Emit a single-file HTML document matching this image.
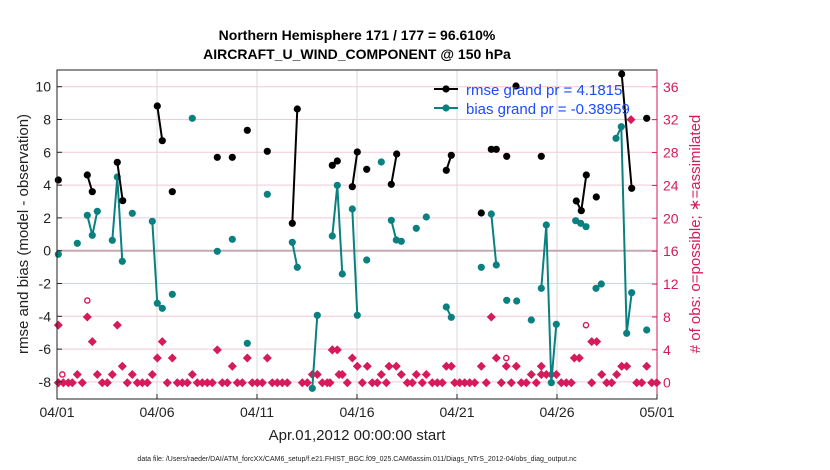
<!DOCTYPE html><html><head><style>body{margin:0;background:#fff}svg{display:block;font-family:"Liberation Sans",sans-serif}</style></head><body>
<svg id="s" width="830" height="470" xmlns="http://www.w3.org/2000/svg"></svg>
<script>
const s=document.getElementById('s');let h='';
const L=57,R=657,T=70,B=399;
const yl=v=>250.7-v*16.4, yr=n=>382.7-n*8.22;
h+=`<rect x="${L}" y="${T}" width="${R-L}" height="${B-T}" fill="#fff"/>`;
for(let v=-8;v<=10;v+=2){if(v==0)continue;h+=`<line x1="${L}" x2="${R}" y1="${yl(v)}" y2="${yl(v)}" stroke="#f3c9d9" stroke-width="1"/>`;}
for(let i=1;i<6;i++){const x=L+i*100;h+=`<line x1="${x}" x2="${x}" y1="${T}" y2="${B}" stroke="#d8d8d8"/>`;}
h+=`<line x1="${L}" x2="${R}" y1="250.7" y2="250.7" stroke="#c8a8b0" stroke-width="2"/>`;
const P={0:[58.3,63.3,68.3,72.3,82.3,102.3,107.3,127.3,137.3,142.3,147.3,167.3,177.3,182.3,187.3,197.3,202.3,207.3,212.3,222.3,227.3,237.3,242.3,252.3,257.3,262.3,272.3,277.3,282.3,287.3,302.3,307.3,322.3,327.3,330,347.3,362.3,372.3,377.3,386.3,407.3,412.3,422.3,432.3,437.3,442.3,454.7,459.7,464.7,469.7,474.7,486.3,501.3,511.3,521.3,526.3,536.3,561.3,566.3,571.3,591.7,606.7,611.7,636.7,641.7,651.7,656.7],
1:[77.3,97.3,112.3,132.3,152.3,192.3,312.3,317.3,339,342.3,381.3,401.3,416.3,426.3,531.3,541.3,546.3,551.3,556.3,601.7,616.7],
2:[122.3,232.3,357.3,367.3,389,396.3,446.3,451.3,481.3,506.3,516.3,541.3,621.7,626.7,646.7],
3:[157.3,172.3,247.3,267.3,352.3,496.3,574.3,579.3],
4:[217.3,332.3,337.3,332.3],5:[92.3,162.3,591.7,596.7],7:[58.3,117.3],8:[87.3,491.3],32:[631]};
for(const n in P)for(const x of P[n]){const y=yr(+n);h+=`<polygon points="${x},${y-4.5} ${x+4.5},${y} ${x},${y+4.5} ${x-4.5},${y}" fill="#d61a5c"/><path d="M${x-3.5} ${y}H${x+3.5}M${x} ${y-3.5}V${y+3.5}" stroke="#d61a5c" stroke-width="2"/>`;}
for(const [x,n] of [[62.3,1],[87.3,10],[506.3,3],[586,7]])h+=`<circle cx="${x}" cy="${yr(n)}" r="2.6" fill="none" stroke="#d61a5c" stroke-width="1.4"/>`;
function ser(groups,c){for(const g of groups){if(g.length>1)h+=`<polyline points="${g.map(p=>p.join(',')).join(' ')}" fill="none" stroke="${c}" stroke-width="2"/>`;for(const p of g)h+=`<circle cx="${p[0]}" cy="${p[1]}" r="3.6" fill="${c}"/>`;}}
ser([[[58.3,254.3]],[[77.3,243.3]],[[87.3,215.3],[92.3,235.3],[97.3,211.3]],[[112.3,240.3],[117.3,177],[122.3,261.3]],[[132.3,213.3]],[[152.3,221.3],[157.3,303.3],[162.3,308.3]],[[172.3,294.3]],[[192.3,118.3]],[[217.3,251.3]],[[232.3,239.3]],[[247.3,343.3]],[[267.3,194.3]],[[292.3,242.3],[297.3,267.3]],[[312.3,388.3],[317.3,315.3]],[[332.3,236],[337.3,185.3],[342.3,274]],[[352.3,209],[357.3,315.3]],[[366.7,260]],[[381.3,162]],[[391.3,220.3],[396.3,240],[401.3,241.3]],[[416.3,228.3]],[[426.3,217]],[[446.3,307],[451.3,317.3]],[[481.3,267.3]],[[491.3,214],[496.3,265]],[[506.7,300.3]],[[516.7,301]],[[531.3,320]],[[541.3,288.3],[546.3,225],[551.3,382.7],[556.3,324.3]],[[575.7,220.7],[580.7,223.3],[586,226.7]],[[596,288.3],[601.3,284]],[[616,138.3],[621.3,126.7],[626.7,333.3],[631.7,292.7]],[[646.7,330]]],'#0b8080');
ser([[[58.3,180]],[[87.3,175],[92.3,191.7]],[[117.3,162.3],[122.7,200.7]],[[157.3,106],[162.3,140.7]],[[172.3,191.7]],[[217.3,157.3]],[[232.3,157.3]],[[247.3,130.3]],[[267.3,151.3]],[[292.3,223.3],[297.3,109]],[[332.3,165.3],[337.3,161]],[[352.3,186.7],[357.3,152]],[[366.7,169.3]],[[391.3,184.3],[396.7,154]],[[446.3,170.3],[451.3,155.3]],[[481.3,213]],[[491.3,149.3],[496.3,149.3]],[[506.7,156.3]],[[516,86]],[[541.3,156.3]],[[576.3,201],[581.3,210.7],[586.3,175]],[[596.3,197]],[[621.7,74],[631.7,188.3]],[[646.7,118.3]]],'#000');
h+=`<line x1="434" x2="458" y1="89" y2="89" stroke="#000" stroke-width="2"/><circle cx="446" cy="89" r="3.6"/><line x1="434" x2="458" y1="108" y2="108" stroke="#0b8080" stroke-width="2"/><circle cx="446" cy="108" r="3.6" fill="#0b8080"/>`;
h+=`<text x="466" y="95" font-size="15" fill="#1a4cff">rmse grand pr = 4.1815</text><text x="466" y="114" font-size="15" fill="#1a4cff">bias grand pr = -0.38959</text>`;
h+=`<rect x="${L}" y="${T}" width="${R-L}" height="${B-T}" fill="none" stroke="#222" stroke-width="1"/>`;
for(let v=-8;v<=10;v+=2){h+=`<line x1="${L}" x2="${L+5}" y1="${yl(v)}" y2="${yl(v)}" stroke="#222"/><text x="${L-6}" y="${yl(v)+5}" font-size="14" text-anchor="end" fill="#222">${v}</text>`;}
for(let n=0;n<=36;n+=4){h+=`<line x1="${R-5}" x2="${R}" y1="${yr(n)}" y2="${yr(n)}" stroke="#d61a5c"/><text x="${R+6}" y="${yr(n)+5}" font-size="14" fill="#d61a5c">${n}</text>`;}
h+=`<line x1="${R}" x2="${R}" y1="${T}" y2="${B}" stroke="#d61a5c"/>`;
const d=['04/01','04/06','04/11','04/16','04/21','04/26','05/01'];
d.forEach((t,i)=>{const x=L+i*100;h+=`<line x1="${x}" x2="${x}" y1="${B}" y2="${B-5}" stroke="#222"/><text x="${x}" y="417" font-size="14" text-anchor="middle" fill="#222">${t}</text>`;});
h+=`<text x="357" y="40" font-size="14" font-weight="bold" text-anchor="middle">Northern Hemisphere 171 / 177 = 96.610%</text><text x="357" y="59" font-size="14" font-weight="bold" text-anchor="middle">AIRCRAFT_U_WIND_COMPONENT @ 150 hPa</text>`;
h+=`<text x="357" y="440" font-size="15" text-anchor="middle" fill="#222">Apr.01,2012 00:00:00 start</text>`;
h+=`<text x="28" y="234" font-size="15" text-anchor="middle" fill="#222" transform="rotate(-90 28 234)">rmse and bias (model - observation)</text>`;
h+=`<text x="700" y="234" font-size="15" text-anchor="middle" fill="#d61a5c" transform="rotate(-90 700 234)"># of obs: o=possible; ∗=assimilated</text>`;
h+=`<text x="357" y="461" font-size="7" text-anchor="middle" fill="#222">data file: /Users/raeder/DAI/ATM_forcXX/CAM6_setup/f.e21.FHIST_BGC.f09_025.CAM6assim.011/Diags_NTrS_2012-04/obs_diag_output.nc</text>`;
s.innerHTML=h;
</script></body></html>
